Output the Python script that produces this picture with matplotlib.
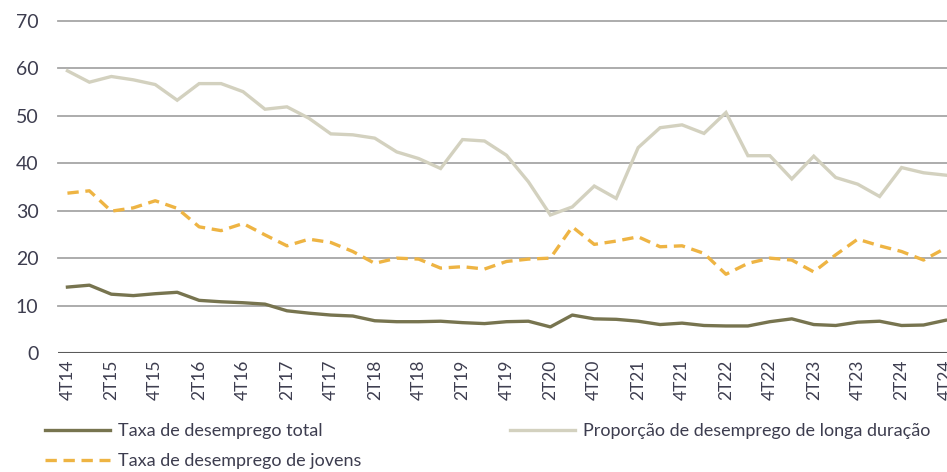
import matplotlib
matplotlib.use("Agg")
import matplotlib.pyplot as plt
from matplotlib.lines import Line2D

# quarters 4T14 .. 4T24
quarters = []
for year in range(14, 25):
    for q in (1, 2, 3, 4):
        if (year == 14 and q < 4):
            continue
        quarters.append(f"{q}T{year}")
quarters = quarters[:41]

taxa_total = [13.9, 14.3, 12.4, 12.1, 12.5, 12.8, 11.1, 10.8, 10.6, 10.3,
              8.9, 8.4, 8.0, 7.8, 6.8, 6.6, 6.6, 6.7, 6.4, 6.2,
              6.6, 6.7, 5.5, 8.0, 7.2, 7.1, 6.7, 6.0, 6.3, 5.8,
              5.7, 5.7, 6.6, 7.2, 6.0, 5.8, 6.5, 6.7, 5.8, 5.9, 6.9]

longa_duracao = [59.5, 57.1, 58.3, 57.6, 56.6, 53.3, 56.8, 56.8, 55.1, 51.4,
                 51.9, 49.5, 46.2, 46.0, 45.3, 42.4, 41.0, 38.9, 45.0, 44.7,
                 41.7, 36.1, 29.1, 30.8, 35.2, 32.6, 43.3, 47.5, 48.1, 46.3,
                 50.7, 41.6, 41.6, 36.7, 41.5, 37.0, 35.6, 33.0, 39.1, 38.0, 37.5]

taxa_jovens = [33.7, 34.2, 29.9, 30.6, 32.1, 30.5, 26.6, 25.8, 27.3, 24.9,
               22.6, 24.0, 23.3, 21.4, 18.9, 20.0, 19.8, 17.9, 18.2, 17.7,
               19.3, 19.8, 20.0, 26.6, 22.9, 23.6, 24.5, 22.4, 22.6, 21.0,
               16.6, 18.9, 20.0, 19.6, 17.1, 20.7, 24.0, 22.6, 21.4, 19.6, 22.1]

c_total = "#77744f"
c_longa = "#d3d1bf"
c_jovens = "#eeb443"
c_text = "#3d3d4f"

plt.rcParams['font.family'] = ['Lato', 'DejaVu Sans']

fig = plt.figure(figsize=(9.47, 4.72), dpi=100)
ax = fig.add_axes([58 / 947, 1 - 353 / 472, 1 - 58 / 947, (353 - 21) / 472])

x = list(range(len(quarters)))
ax.plot(x, longa_duracao, color=c_longa, lw=2.4, solid_joinstyle='miter', zorder=3)
ax.plot(x, taxa_jovens, color=c_jovens, lw=2.4, dashes=(3.4, 2.0), zorder=3)
ax.plot(x, taxa_total, color=c_total, lw=2.4, zorder=4)

ax.set_ylim(0, 70)
ax.set_xlim(-0.43, 40.07)
ax.set_yticks(range(0, 71, 10))
for v in range(10, 71, 10):
    ax.axhline(v, color="#a6a6a6", lw=1.3, zorder=1, clip_on=False)
ax.axhline(0, color="#5a5a5a", lw=1.5, zorder=2)

for s in ax.spines.values():
    s.set_visible(False)

# last label (4T24) is cut by the right edge, as in the original
ax.set_xticks(x[::2])
ax.set_xticklabels(quarters[::2], rotation=90, fontsize=12.5, color=c_text)
ax.tick_params(axis='x', length=0, pad=5)
ax.tick_params(axis='y', length=0, pad=14, labelsize=14, labelcolor=c_text)

h_total = Line2D([], [], color=c_total, lw=2.4)
h_jovens = Line2D([], [], color=c_jovens, lw=2.4, dashes=(3.4, 2.0))
h_longa = Line2D([], [], color=c_longa, lw=2.4)

leg_kw = dict(frameon=False, fontsize=13, handlelength=3.6, handletextpad=0.45,
              labelcolor=c_text, borderpad=0, borderaxespad=0, labelspacing=0.8)
fig.legend([h_total, h_jovens], ["Taxa de desemprego total", "Taxa de desemprego de jovens"],
           loc='upper left', bbox_to_anchor=(45 / 947, 1 - 423 / 472), **leg_kw)
fig.legend([h_longa], ["Proporção de desemprego de longa duração"],
           loc='upper left', bbox_to_anchor=(510 / 947, 1 - 423 / 472), **leg_kw)

fig.savefig("out.png", dpi=100)
